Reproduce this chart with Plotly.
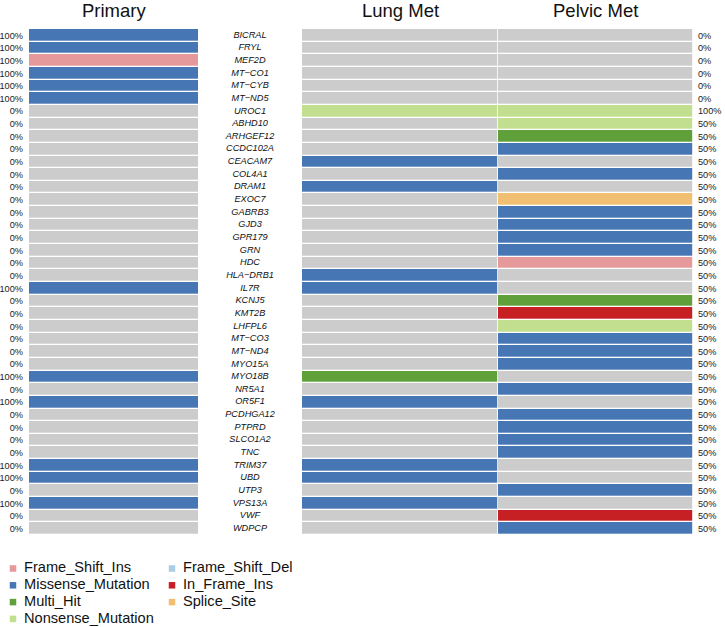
import plotly.graph_objects as go

W, H = 725, 627
FONT = "Liberation Sans, Arial, Helvetica, sans-serif"

# ---------------- data ----------------
genes = ["BICRAL", "FRYL", "MEF2D", "MT-CO1", "MT-CYB", "MT-ND5", "UROC1", "ABHD10",
         "ARHGEF12", "CCDC102A", "CEACAM7", "COL4A1", "DRAM1", "EXOC7", "GABRB3", "GJD3",
         "GPR179", "GRN", "HDC", "HLA-DRB1", "IL7R", "KCNJ5", "KMT2B", "LHFPL6", "MT-CO3",
         "MT-ND4", "MYO15A", "MYO18B", "NR5A1", "OR5F1", "PCDHGA12", "PTPRD", "SLCO1A2",
         "TNC", "TRIM37", "UBD", "UTP3", "VPS13A", "VWF", "WDPCP"]

primary = ["MIS", "MIS", "FSI", "MIS", "MIS", "MIS", "", "",
           "", "", "", "", "", "", "", "",
           "", "", "", "", "MIS", "", "", "", "",
           "", "", "MIS", "", "MIS", "", "", "",
           "", "MIS", "MIS", "", "MIS", "", ""]

lung = ["", "", "", "", "", "", "NON", "",
        "", "", "MIS", "", "MIS", "", "", "",
        "", "", "", "MIS", "MIS", "", "", "", "",
        "", "", "MH", "", "MIS", "", "", "",
        "", "MIS", "MIS", "", "MIS", "", ""]

pelvic = ["", "", "", "", "", "", "NON", "NON",
          "MH", "MIS", "", "MIS", "", "SS", "MIS", "MIS",
          "MIS", "MIS", "FSI", "", "", "MH", "IFI", "NON", "MIS",
          "MIS", "MIS", "", "MIS", "", "MIS", "MIS", "MIS",
          "MIS", "", "", "MIS", "", "IFI", "MIS"]

samples_left = ["Primary"]
samples_right = ["Lung Met", "Pelvic Met"]

# category code, legend name, colour
cat_keys = ["", "FSI", "FSD", "MIS", "IFI", "MH", "SS", "NON"]
cat_names = ["None", "Frame_Shift_Ins", "Frame_Shift_Del", "Missense_Mutation",
             "In_Frame_Ins", "Multi_Hit", "Splice_Site", "Nonsense_Mutation"]
cat_colors = ["#CCCCCC", "#E6999A", "#A9CDE3", "#4677B4",
              "#C61F24", "#5FA03A", "#F0BF72", "#C1DF8F"]

legend_col1 = ["FSI", "MIS", "MH", "NON"]
legend_col2 = ["FSD", "IFI", "SS"]

# ---------------- derived ----------------
code = {k: i for i, k in enumerate(cat_keys)}
name = dict(zip(cat_keys, cat_names))
color = dict(zip(cat_keys, cat_colors))
labels = [g.replace("-", "\u2212") for g in genes]

n = len(cat_keys)
colorscale = []
for i, c in enumerate(cat_colors):
    colorscale.append([i / n, c])
    colorscale.append([(i + 1) / n, c])

left_pct = ["%d%%" % (100 * (p != "")) for p in primary]
right_pct = ["%d%%" % round(100 * ((l != "") + (p != "")) / 2) for l, p in zip(lung, pelvic)]

fig = go.Figure()

fig.add_trace(go.Heatmap(
    z=[[code[p]] for p in primary], x=samples_left, y=labels,
    colorscale=colorscale, zmin=-0.5, zmax=n - 0.5, showscale=False,
    ygap=1.3, xaxis="x", yaxis="y",
    customdata=[[name[p]] for p in primary],
    hovertemplate="%{y}: %{customdata}<extra></extra>"))

fig.add_trace(go.Heatmap(
    z=[[code[l], code[p]] for l, p in zip(lung, pelvic)], x=samples_right, y=labels,
    colorscale=colorscale, zmin=-0.5, zmax=n - 0.5, showscale=False,
    ygap=1.3, xgap=0.8, xaxis="x2", yaxis="y2",
    customdata=[[name[l], name[p]] for l, p in zip(lung, pelvic)],
    hovertemplate="%{x} %{y}: %{customdata}<extra></extra>"))

# gene names in the middle column
fig.add_trace(go.Scatter(
    x=[0.5] * len(labels), y=labels, mode="text", text=labels,
    textfont=dict(family=FONT, size=9.2, color="#111111", style="italic"),
    xaxis="x3", yaxis="y", hoverinfo="skip", showlegend=False))

# custom legend (two columns)
leg_y0, leg_dy = 568.5, 16.8
for col_keys, mx in ((legend_col1, 13), (legend_col2, 172)):
    ys = [leg_y0 + i * leg_dy for i in range(len(col_keys))]
    fig.add_trace(go.Scatter(
        x=[mx] * len(col_keys), y=ys, mode="markers",
        marker=dict(symbol="square", size=6.5, color=[color[k] for k in col_keys]),
        xaxis="x4", yaxis="y4", hoverinfo="skip", showlegend=False))
    fig.add_trace(go.Scatter(
        x=[mx + 11] * len(col_keys), y=ys, mode="text",
        text=[name[k] for k in col_keys], textposition="middle right",
        textfont=dict(family=FONT, size=14.6, color="#111111"),
        xaxis="x4", yaxis="y4", hoverinfo="skip", showlegend=False))

ydom = [1 - 535 / H, 1 - 29 / H]
yrange = [len(labels) - 0.5, -0.5]
yax_common = dict(domain=ydom, range=yrange, autorange=False, showgrid=False, zeroline=False,
                  showline=False, ticks="", type="category",
                  tickfont=dict(family=FONT, size=9.2, color="#222222"))

fig.update_layout(
    width=W, height=H, margin=dict(l=0, r=0, t=0, b=0),
    paper_bgcolor="white", plot_bgcolor="rgba(0,0,0,0)", showlegend=False,
    font=dict(family=FONT),
    xaxis=dict(domain=[29 / W, 198 / W], visible=False, anchor="y"),
    yaxis=dict(**yax_common, anchor="x", side="left",
               tickmode="array", tickvals=labels, ticktext=left_pct, ticklabelstandoff=5),
    xaxis2=dict(domain=[302 / W, 693 / W], visible=False, anchor="y2"),
    yaxis2=dict(**yax_common, anchor="x2", side="right",
                tickmode="array", tickvals=labels, ticktext=right_pct, ticklabelstandoff=4),
    xaxis3=dict(domain=[198 / W, 302 / W], range=[0, 1], visible=False, anchor="y"),
    xaxis4=dict(domain=[0, 1], range=[0, W], visible=False, anchor="y4"),
    yaxis4=dict(domain=[0, 1], range=[H, 0], visible=False, anchor="x4"),
)

titles = [("Primary", (29 + 198) / 2), ("Lung Met", (302 + 498) / 2), ("Pelvic Met", (498 + 693) / 2)]
for t, xc in titles:
    fig.add_annotation(text=t, x=xc / W, y=1 - 10 / H, xref="paper", yref="paper",
                       xanchor="center", yanchor="middle", showarrow=False,
                       font=dict(family=FONT, size=18.5, color="#111111"))

fig.write_html("out.html")
